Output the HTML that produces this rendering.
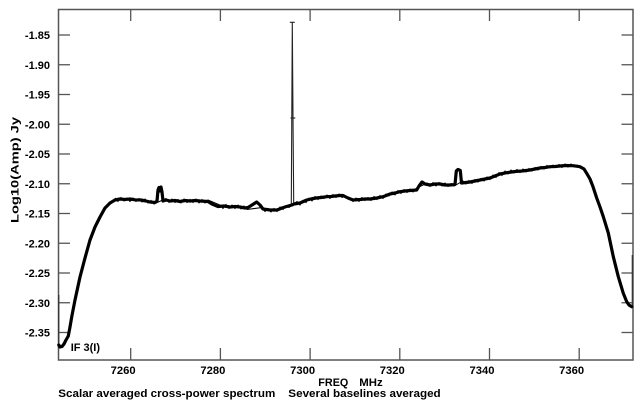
<!DOCTYPE html>
<html><head><meta charset="utf-8"><style>
html,body{margin:0;padding:0;background:#fff;}
svg{display:block;}
text{font-family:"Liberation Sans",Arial,sans-serif;font-weight:bold;font-size:11px;fill:#000;}
</style></head><body>
<svg width="639" height="405" viewBox="0 0 639 405" xmlns="http://www.w3.org/2000/svg">
<rect x="0" y="0" width="639" height="405" fill="#fff"/>
<!-- frame -->
<rect x="58.5" y="9.5" width="574.5" height="350.5" fill="none" stroke="#555" stroke-width="1.5"/>
<!-- y ticks -->
<g stroke="#555" stroke-width="1.3">
<line x1="58.5" y1="35" x2="70" y2="35"/><line x1="621.5" y1="35" x2="633" y2="35"/>
<line x1="58.5" y1="64.75" x2="70" y2="64.75"/><line x1="621.5" y1="64.75" x2="633" y2="64.75"/>
<line x1="58.5" y1="94.5" x2="70" y2="94.5"/><line x1="621.5" y1="94.5" x2="633" y2="94.5"/>
<line x1="58.5" y1="124.25" x2="70" y2="124.25"/><line x1="621.5" y1="124.25" x2="633" y2="124.25"/>
<line x1="58.5" y1="154" x2="70" y2="154"/><line x1="621.5" y1="154" x2="633" y2="154"/>
<line x1="58.5" y1="183.75" x2="70" y2="183.75"/><line x1="621.5" y1="183.75" x2="633" y2="183.75"/>
<line x1="58.5" y1="213.5" x2="70" y2="213.5"/><line x1="621.5" y1="213.5" x2="633" y2="213.5"/>
<line x1="58.5" y1="243.25" x2="70" y2="243.25"/><line x1="621.5" y1="243.25" x2="633" y2="243.25"/>
<line x1="58.5" y1="273" x2="70" y2="273"/><line x1="621.5" y1="273" x2="633" y2="273"/>
<line x1="58.5" y1="302.75" x2="70" y2="302.75"/><line x1="621.5" y1="302.75" x2="633" y2="302.75"/>
<line x1="58.5" y1="332.5" x2="70" y2="332.5"/><line x1="621.5" y1="332.5" x2="633" y2="332.5"/>
<!-- x ticks -->
<line x1="130.7" y1="9.5" x2="130.7" y2="21"/><line x1="130.7" y1="348" x2="130.7" y2="360"/>
<line x1="220.4" y1="9.5" x2="220.4" y2="21"/><line x1="220.4" y1="348" x2="220.4" y2="360"/>
<line x1="310.1" y1="9.5" x2="310.1" y2="21"/><line x1="310.1" y1="348" x2="310.1" y2="360"/>
<line x1="399.8" y1="9.5" x2="399.8" y2="21"/><line x1="399.8" y1="348" x2="399.8" y2="360"/>
<line x1="489.5" y1="9.5" x2="489.5" y2="21"/><line x1="489.5" y1="348" x2="489.5" y2="360"/>
<line x1="579.2" y1="9.5" x2="579.2" y2="21"/><line x1="579.2" y1="348" x2="579.2" y2="360"/>
</g>
<!-- y labels -->
<g text-anchor="end">
<text x="50" y="39">-1.85</text>
<text x="50" y="68.75">-1.90</text>
<text x="50" y="98.5">-1.95</text>
<text x="50" y="128.25">-2.00</text>
<text x="50" y="158">-2.05</text>
<text x="50" y="187.75">-2.10</text>
<text x="50" y="217.5">-2.15</text>
<text x="50" y="247.25">-2.20</text>
<text x="50" y="277">-2.25</text>
<text x="50" y="306.75">-2.30</text>
<text x="50" y="336.5">-2.35</text>
</g>
<!-- x labels -->
<text x="110.7" y="374" textLength="25" lengthAdjust="spacingAndGlyphs">7260</text>
<text x="200.4" y="374" textLength="25" lengthAdjust="spacingAndGlyphs">7280</text>
<text x="290.1" y="374" textLength="25" lengthAdjust="spacingAndGlyphs">7300</text>
<text x="379.8" y="374" textLength="25" lengthAdjust="spacingAndGlyphs">7320</text>
<text x="469.5" y="374" textLength="25" lengthAdjust="spacingAndGlyphs">7340</text>
<text x="559.2" y="374" textLength="25" lengthAdjust="spacingAndGlyphs">7360</text>
<text x="318.3" y="386" textLength="30" lengthAdjust="spacingAndGlyphs">FREQ</text>
<text x="359.3" y="386" textLength="23.4" lengthAdjust="spacingAndGlyphs">MHz</text>
<text x="58.3" y="397" textLength="217" lengthAdjust="spacingAndGlyphs">Scalar averaged cross-power spectrum</text>
<text x="288.3" y="397" textLength="152.4" lengthAdjust="spacingAndGlyphs">Several baselines averaged</text>
<text transform="translate(18.5,223) rotate(-90)" x="0" y="0" textLength="106" lengthAdjust="spacingAndGlyphs">Log10(Amp) Jy</text>
<text x="70.7" y="351" textLength="29.3" lengthAdjust="spacingAndGlyphs">IF 3(I)</text>
<!-- spike -->
<g stroke="#222" stroke-width="1.1" fill="none">
<polyline points="291.3,205 292.3,22.3 293,118 293.7,204"/>
<line x1="289.8" y1="22.3" x2="294.8" y2="22.3"/>
<line x1="290.5" y1="118" x2="295.3" y2="118"/>
</g>
<!-- edge verticals -->
<line x1="58.8" y1="295" x2="58.8" y2="345" stroke="#333" stroke-width="1.2"/>
<line x1="632.3" y1="255" x2="632.3" y2="306.7" stroke="#333" stroke-width="1.2"/>
<!-- data -->
<polyline fill="none" stroke="#000" stroke-width="3.2" stroke-linejoin="round" stroke-linecap="round" points="
58.8,345 60,347 62,346.5 64,344 66,340 68.3,336 70,327 71.7,317 75,300 80,277 85,258 90,240 95,227 100,217 105,208 110,203 115,200 120,199 125,199.5 130,199 135,199.8 141,200 146,201 150,202 155,202.5 157,201 158,190 159,187.5 160,191 161,187 162,192 163,201 166,200 170,201 175,200.5 180,201.5 185,200.5 190,201 195,200.5 200,201 208,201.5 212,204 218,206.5 224,206 230,207 235,206.5 240,207 245,208 248,207.5 252,205 256.7,202 260,205 263,209 270,210 277,210 282,208 285,207 290,205.5 292,205 294,204 300,203 306.7,200 311,199 316,198 321,197.5 326.7,196.7 331,196.5 335,196 340,195.5 343,195.5 348,198 353,200 360,199.5 365,199 370,199 377,198 383,196.7 390,194 395,193 400,191.7 405,191 410,190.5 416.7,190 419,186 422,182 425,184 430,185 435,184 440,184 445,185 450,185 455,184.5 456.3,171 458,169.5 460.3,170.5 461.5,183 466,182.5 470,182 475,181 480,180 485,179 490,178 495,176 500,174 506.7,172.7 515,171.5 522,171 530,170 535,169 540,168 545,167.5 550,166.7 555,166.5 560,166 566,165.5 573,165.7 580,166.7 584,169 586.7,173.3 590,179 593,186.7 596.7,198 600,207 603.3,216.7 608.3,233 613.3,256.7 618.3,276.7 623.3,293.3 626.7,301.7 629,305 631.7,306.7"/>
<!-- jitter texture -->
<polyline fill="none" stroke="#000" stroke-width="1" points="
115,198 118,201.5 121,197.5 124,201 127,198 130,201.5 133,198 136,201.5 139,198.5 142,202 145,199 148,203 151,200.5 154,204
166,198.5 169,202.5 172,199 175,202.5 178,199.5 181,203 184,199 187,202.5 190,199.5 193,202.5 196,199 199,203 202,199.5 205,203 208,200
220,205 223,208.5 226,204.5 229,208.5 232,205 235,208.5 238,205 241,209 244,206 247,209.5
262,207.5 265,211.5 268,208.5 271,212 274,208.5 277,211.5 280,207 283,209.5 286,205.5 289,207.5
297,201.5 300,205 303,200.5 306,202.5 309,198 312,201 315,196.5 318,199.5 321,196 324,198.5 327,195 330,198.5 333,194.5 336,197.5 339,194 342,197.5 345,196
350,198 353,201.5 356,198 359,201.5 362,197.5 365,200.5 368,197.5 371,200.5 374,196.5 377,199.5 380,195.5 383,198.5 386,194 389,196 392,192 395,195 398,190.5 401,193.5 404,189.5 407,192.5 410,189 413,192 416,188.5
427,183 430,186.5 433,182.5 436,186 439,182.5 442,186 445,183 448,186.5 451,183.5 454,186
463,181 466,184 469,180.5 472,183.5 475,179.5 478,182 481,178.5 484,181 487,177 490,179.5 493,175 496,177.5 499,172.5 502,175.5 505,171 508,174 511,170 514,173 517,169.5 520,172.5 523,169 526,172 529,168.5 532,171 535,167.5 538,170 541,166.5 544,169 547,165.5 550,168 553,165 556,167.5 559,164.5 562,167.5 565,164 568,167 571,164 574,167 577,165 580,168 583,167"/>
</svg>
</body></html>
